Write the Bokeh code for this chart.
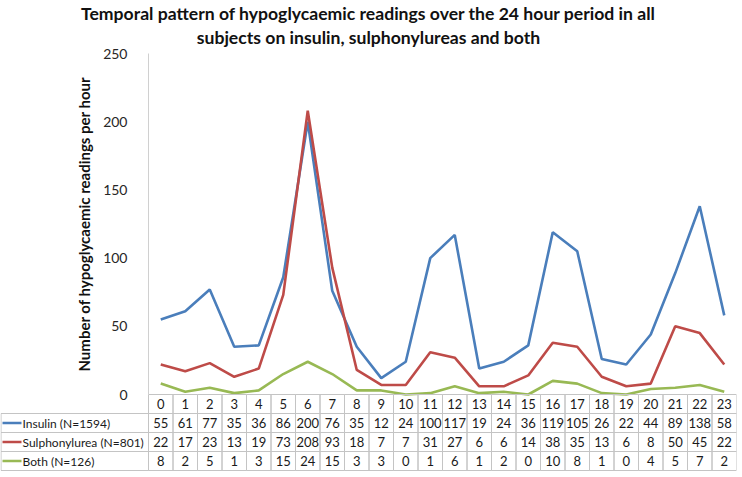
from bokeh.plotting import figure
from bokeh.models import LinearAxis, FixedTicker, Title, Range1d
from bokeh.embed import file_html
from bokeh.resources import INLINE
from bokeh.core.properties import value

# ---------------- data ----------------
hours = list(range(24))
insulin = [55, 61, 77, 35, 36, 86, 200, 76, 35, 12, 24, 100, 117, 19, 24, 36, 119, 105, 26, 22, 44, 89, 138, 58]
sulphonylurea = [22, 17, 23, 13, 19, 73, 208, 93, 18, 7, 7, 31, 27, 6, 6, 14, 38, 35, 13, 6, 8, 50, 45, 22]
both = [8, 2, 5, 1, 3, 15, 24, 15, 3, 3, 0, 1, 6, 1, 2, 0, 10, 8, 1, 0, 4, 5, 7, 2]
series_names = ["Insulin (N=1594)", "Sulphonylurea (N=801)", "Both (N=126)"]
series_colors = ["#4A7EBB", "#BE4B48", "#98B954"]
y_ticks = [0, 50, 100, 150, 200, 250]
title_line1 = "Temporal pattern of hypoglycaemic readings over the 24 hour period in all"
title_line2 = "subjects on insulin, sulphonylureas and both"
y_label = "Number of hypoglycaemic readings per hour"

series = [insulin, sulphonylurea, both]

# ---------------- layout ----------------
FONT = "Lato"
FRAME_W = 736
LABEL_COL_PX = 148
COL_PX = (FRAME_W - LABEL_COL_PX) / 24
TOP_PAD_PX = 5
CHART_PX = 341
ROW_PX = 19
BOTTOM_PAD = 1
N_ROWS = 4
FRAME_H = int(TOP_PAD_PX + CHART_PX + N_ROWS * ROW_PX + BOTTOM_PAD)
YU = 250 / CHART_PX
ROW = ROW_PX * YU
XU = 1 / COL_PX
x_start = -0.5 - LABEL_COL_PX / COL_PX
y_start = -(N_ROWS * ROW_PX + BOTTOM_PAD) * YU
y_end = 250 + TOP_PAD_PX * YU

p = figure(frame_width=FRAME_W, frame_height=FRAME_H,
           x_range=Range1d(x_start, 23.5), y_range=Range1d(y_start, y_end),
           x_axis_type=None, y_axis_type=None,
           toolbar_location=None, output_backend="svg",
           min_border_left=0, min_border_right=2, min_border_top=46, min_border_bottom=0,
           outline_line_color=None, background_fill_color="white", border_fill_color="white")

TITLE_SIZE = "17.6px"
p.title.text = title_line1
p.title.align = "center"
p.title.text_font = FONT
p.title.text_font_size = TITLE_SIZE
p.title.text_font_style = "bold"
p.title.text_color = "#111111"
p.title.standoff = 0

p.add_layout(Title(text=title_line2, align="center", text_font=FONT, text_font_size=TITLE_SIZE,
                   text_font_style="bold", text_color="#111111", standoff=2), "above")

yaxis = LinearAxis(fixed_location=-0.5, bounds=(0, 250), ticker=FixedTicker(ticks=y_ticks),
                   axis_label=y_label,
                   axis_line_color="#d0d0d0", axis_line_width=1,
                   major_tick_line_color=None, minor_tick_line_color=None,
                   major_label_standoff=15,
                   major_label_text_font=FONT, major_label_text_font_size="14px",
                   major_label_text_color="#262626",
                   axis_label_text_font=FONT, axis_label_text_font_size="15px",
                   axis_label_text_font_style="bold", axis_label_text_color="#111111",
                   axis_label_standoff=7)
p.add_layout(yaxis, "left")

# series lines
for vals, col in zip(series, series_colors):
    p.line(hours, vals, line_color=col, line_width=2.6)

# ---------------- data table ----------------
GRID = "#c4c4c4"
left, right, top, bottom = [], [], [], []
for r in range(N_ROWS):
    for h in hours:
        left.append(h - 0.5)
        right.append(h + 0.5)
        top.append(-r * ROW)
        bottom.append(-(r + 1) * ROW)
for r in range(1, N_ROWS):
    left.append(x_start + 0.5 * XU)
    right.append(-0.5)
    top.append(-r * ROW)
    bottom.append(-(r + 1) * ROW)
p.quad(left=left, right=right, top=top, bottom=bottom, fill_color=None,
       line_color=GRID, line_width=1)

tx, ty, tt = [], [], []
for h in hours:
    tx.append(h)
    ty.append(-0.5 * ROW)
    tt.append(str(h))
for r, vals in enumerate(series, start=1):
    for h, v in zip(hours, vals):
        tx.append(h)
        ty.append(-(r + 0.5) * ROW)
        tt.append(str(v))
p.text(x=tx, y=ty, text=tt, text_align="center", text_baseline="middle",
       text_font=value(FONT), text_font_size="13px", text_color="#1a1a1a")

row_y = [-(r + 0.5) * ROW for r in range(1, N_ROWS)]
p.segment(x0=[x_start + 2 * XU] * 3, x1=[x_start + 21 * XU] * 3, y0=row_y, y1=row_y,
          line_color=series_colors, line_width=2.5)
p.text(x=[x_start + 22 * XU] * 3, y=row_y, text=series_names, text_align="left",
       text_baseline="middle", text_font=value(FONT), text_font_size="12px",
       text_color="#1a1a1a")

open("out.html", "w").write(file_html(p, INLINE))
